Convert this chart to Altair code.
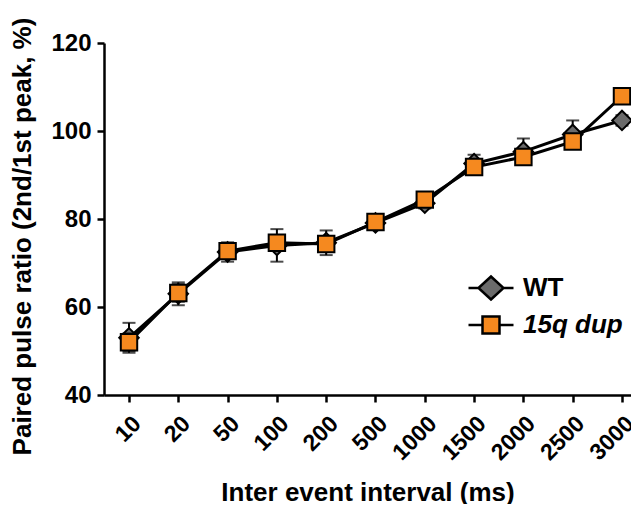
import altair as alt
import pandas as pd

intervals = ["10", "20", "50", "100", "200", "500", "1000", "1500", "2000", "2500", "3000"]
wt_mean = [53.0, 63.0, 72.5, 74.0, 74.6, 79.1, 83.6, 92.6, 95.3, 99.2, 102.4]
wt_sem = [3.4, 2.6, 2.2, 3.7, 2.8, 1.0, 1.2, 2.0, 3.0, 3.2, 1.2]
dup_mean = [52.0, 63.2, 72.7, 74.6, 74.3, 79.3, 84.4, 91.8, 94.1, 97.6, 107.9]
dup_sem = [2.0, 2.0, 1.5, 1.5, 1.2, 1.0, 1.0, 1.0, 1.0, 1.0, 1.0]
series_names = ["WT", "15q dup"]
series_colors = ["#6b6b6b", "#f5891f"]
y_ticks = [40, 60, 80, 100, 120]

FONT = "Liberation Sans"

rows = []
for name, means, sems in [("WT", wt_mean, wt_sem), ("15q dup", dup_mean, dup_sem)]:
    for iv, m, s in zip(intervals, means, sems):
        rows.append({"interval": iv, "series": name, "mean": m, "lo": m - s, "hi": m + s})
df = pd.DataFrame(rows)

xenc = alt.X(
    "interval:N",
    sort=intervals,
    scale=alt.Scale(type="point", padding=0.345, align=0.735),
    axis=alt.Axis(
        title="Inter event interval (ms)",
        labelAngle=-45,
        labelFont=FONT, labelFontSize=23, labelFontWeight="bold", labelColor="black",
        labelPadding=10, labelOffset=0,
        titleFont=FONT, titleFontSize=26, titleFontWeight="bold", titleColor="black",
        titlePadding=15,
        domainColor="black", domainWidth=2.5, tickColor="black", tickWidth=2.5, tickSize=7,
        grid=False,
    ),
)
yscale = alt.Scale(domain=[40, 120], nice=False, zero=False)
yaxis = alt.Axis(
    title="Paired pulse ratio (2nd/1st peak, %)",
    values=y_ticks,
    labelFont=FONT, labelFontSize=24, labelFontWeight="bold", labelColor="black",
    labelPadding=6,
    titleFont=FONT, titleFontSize=26, titleFontWeight="bold", titleColor="black",
    titlePadding=15, titleY=193,
    domainColor="black", domainWidth=2.5, tickColor="black", tickWidth=2.5, tickSize=7,
    grid=False,
)

shape_map = {"WT": "diamond", "15q dup": "square"}
size_map = {"WT": 380, "15q dup": 270}
color_map = dict(zip(series_names, series_colors))

layers = []
for name in series_names:
    base = alt.Chart(df).transform_filter(alt.datum.series == name)
    err = base.mark_rule(color="black", strokeWidth=2).encode(
        x=xenc, y=alt.Y("lo:Q", scale=yscale, axis=yaxis), y2="hi:Q"
    )
    cap_lo = base.mark_tick(color="black", thickness=2, size=13).encode(
        x=xenc, y=alt.Y("lo:Q", scale=yscale, axis=yaxis)
    )
    cap_hi = base.mark_tick(color="black", thickness=2, size=13).encode(
        x=xenc, y=alt.Y("hi:Q", scale=yscale, axis=yaxis)
    )
    line = base.mark_line(color="black", strokeWidth=3).encode(
        x=xenc, y=alt.Y("mean:Q", scale=yscale, axis=yaxis)
    )
    pts = base.mark_point(
        shape=shape_map[name], size=size_map[name], filled=True,
        fill=color_map[name], stroke="black", strokeWidth=2, opacity=1,
    ).encode(x=xenc, y=alt.Y("mean:Q", scale=yscale, axis=yaxis))
    layers += [err, cap_lo, cap_hi, line, pts]

legend_paths = [
    "M-2.25,0H-1.25M1.25,0H2.25M-1.25,0L0,-1.15L1.25,0L0,1.15Z",
    "M-2.25,0H-0.85M0.85,0H2.25M-0.85,-0.85H0.85V0.85H-0.85Z",
]
leg = alt.Legend(
    title=None, orient="none", legendX=374, legendY=232,
    symbolSize=400, symbolStrokeColor="black", symbolStrokeWidth=2.5,
    symbolOpacity=1,
    labelFont=FONT, labelFontSize=26, labelFontWeight="bold", labelColor="black",
    labelFontStyle={"expr": "datum.label == '15q dup' ? 'italic' : 'normal'"},
    labelOffset=19, rowPadding=6,
)
legend_layer = alt.Chart(df).transform_filter("false").mark_point(
    filled=True, strokeWidth=2.5, opacity=1
).encode(
    x=xenc,
    y=alt.Y("mean:Q", scale=yscale, axis=yaxis),
    shape=alt.Shape("series:N", scale=alt.Scale(domain=series_names, range=legend_paths), legend=leg),
    fill=alt.Fill("series:N", scale=alt.Scale(domain=series_names, range=series_colors), legend=leg),
    stroke=alt.Stroke("series:N", scale=alt.Scale(domain=series_names, range=["black", "black"]), legend=leg),
)
layers.append(legend_layer)

chart = alt.layer(*layers).properties(
    width=527, height=352,
    autosize=alt.AutoSizeParams(type="none"),
    padding={"left": 96, "top": 35, "right": 0, "bottom": 109},
).configure(background="white").configure_view(stroke=None)

chart.save("out.html", embed_options={"renderer": "svg", "actions": False})
